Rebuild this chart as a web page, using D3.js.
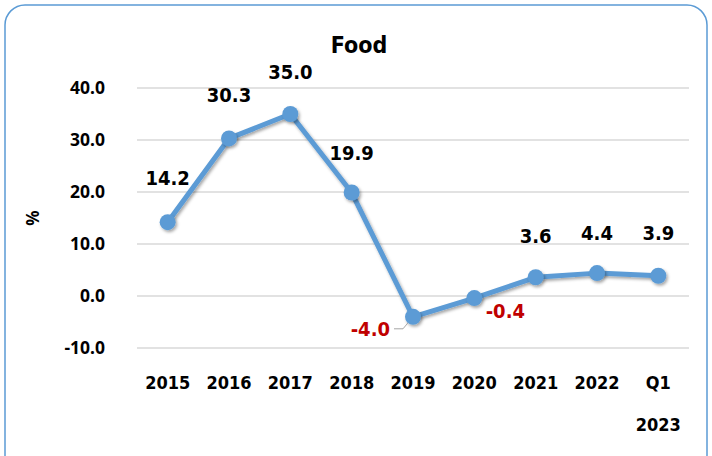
<!DOCTYPE html>
<html lang="en">
<head>
<meta charset="UTF-8">
<title>Food</title>
<style>
  html, body { margin: 0; padding: 0; background: #fff; overflow: hidden; }
  svg { display: block; }
  .tick text { font-family: "Noto Sans", sans-serif; font-weight: bold; font-size: 17.5px; fill: #000; }
  .lbl { font-family: "DejaVu Sans Condensed", "Noto Sans", sans-serif; font-weight: bold; font-size: 20px; }
  .xl { font-family: "DejaVu Sans Condensed", "Noto Sans", sans-serif; font-weight: bold; font-size: 18px; }
</style>
</head>
<body>
<div id="stage"></div>
<script src="https://cdn.jsdelivr.net/npm/d3@7"></script>
<script>
const categories = ['2015', '2016', '2017', '2018', '2019', '2020', '2021', '2022', 'Q1'];
const values = [14.2, 30.3, 35.0, 19.9, -4.0, -0.4, 3.6, 4.4, 3.9];
const yTicks = [-10, 0, 10, 20, 30, 40];

const W = 712, H = 456;
const svg = d3.select('#stage').append('svg').attr('width', W).attr('height', H);
const fmt = d => d.toFixed(1);

// shadow for markers
const defs = svg.append('defs');
const f = defs.append('filter').attr('id', 'sh').attr('x', '-50%').attr('y', '-50%').attr('width', '200%').attr('height', '200%');
f.append('feDropShadow').attr('dx', 1.5).attr('dy', 2).attr('stdDeviation', 1.5).attr('flood-color', '#000').attr('flood-opacity', 0.35);

// frame
svg.append('rect').attr('x', 5).attr('y', 5).attr('width', 702).attr('height', 470)
  .attr('rx', 20).attr('fill', '#fff').attr('stroke', '#5b9bd5').attr('stroke-width', 1.5);

const x = d3.scaleBand().domain(categories).range([137, 689]);
const y = d3.scaleLinear().domain([-10, 40]).range([348, 88]);

// grid
svg.append('g').selectAll('line').data(yTicks).join('line')
  .attr('x1', 137).attr('x2', 689)
  .attr('y1', d => y(d)).attr('y2', d => y(d))
  .attr('stroke', '#d9d9d9').attr('stroke-width', 1.5);

const ya = svg.append('g').attr('transform', 'translate(108,0)')
  .call(d3.axisLeft(y).tickValues(yTicks).tickFormat(fmt).tickSize(0));
ya.select('.domain').remove();
ya.selectAll('text').attr('dy', '0.32em');

// x labels
svg.append('g').selectAll('text').data(categories).join('text')
  .attr('class', 'xl')
  .attr('x', d => x(d) + x.bandwidth() / 2).attr('y', 389)
  .attr('text-anchor', 'middle').text(d => d);
svg.append('text').attr('class', 'xl').attr('x', x('Q1') + x.bandwidth() / 2).attr('y', 431)
  .attr('text-anchor', 'middle').text('2023');

// title and axis title
svg.append('text').attr('x', 359).attr('y', 53).attr('text-anchor', 'middle')
  .attr('font-family', '"DejaVu Sans Condensed", "Noto Sans", sans-serif').attr('font-weight', 'bold')
  .attr('font-size', 23).text('Food');
svg.append('text').attr('transform', 'translate(39,218) rotate(-90)').attr('text-anchor', 'middle')
  .attr('font-family', '"Noto Sans", sans-serif').attr('font-weight', 'bold').attr('font-size', 17).text('%');

const pts = categories.map((c, i) => ({ c, v: values[i], px: x(c) + x.bandwidth() / 2, py: y(values[i]) }));

// line
svg.append('path').datum(pts)
  .attr('d', d3.line().x(d => d.px).y(d => d.py))
  .attr('fill', 'none').attr('stroke', '#5b9bd5').attr('stroke-width', 5)
  .attr('stroke-linejoin', 'round').attr('filter', 'url(#sh)');

svg.append('g').selectAll('circle').data(pts).join('circle')
  .attr('cx', d => d.px).attr('cy', d => d.py).attr('r', 8)
  .attr('fill', '#5b9bd5').attr('filter', 'url(#sh)');

// data labels: offsets [dx, dy, anchor]
const offs = {
  '2015': [0, -44, 'middle'], '2016': [0, -43, 'middle'], '2017': [0, -42, 'middle'],
  '2018': [0, -40, 'middle'], '2019': [-23, 12, 'end'], '2020': [31, 13, 'middle'],
  '2021': [0, -41, 'middle'], '2022': [0, -40, 'middle'], 'Q1': [0, -43, 'middle']
};
// leader line for 2019
const p19 = pts[4];
svg.append('polyline')
  .attr('points', `${p19.px - 19},${p19.py + 12} ${p19.px - 10},${p19.py + 12} ${p19.px - 5},${p19.py + 6}`)
  .attr('fill', 'none').attr('stroke', '#a6a6a6').attr('stroke-width', 1);

svg.append('g').selectAll('text').data(pts).join('text')
  .attr('class', 'lbl')
  .attr('x', d => d.px + offs[d.c][0]).attr('y', d => d.py + offs[d.c][1])
  .attr('text-anchor', d => offs[d.c][2])
  .attr('dy', '0.35em')
  .attr('fill', d => d.v < 0 ? '#c00000' : '#000')
  .text(d => fmt(d.v));
</script>
</body>
</html>
